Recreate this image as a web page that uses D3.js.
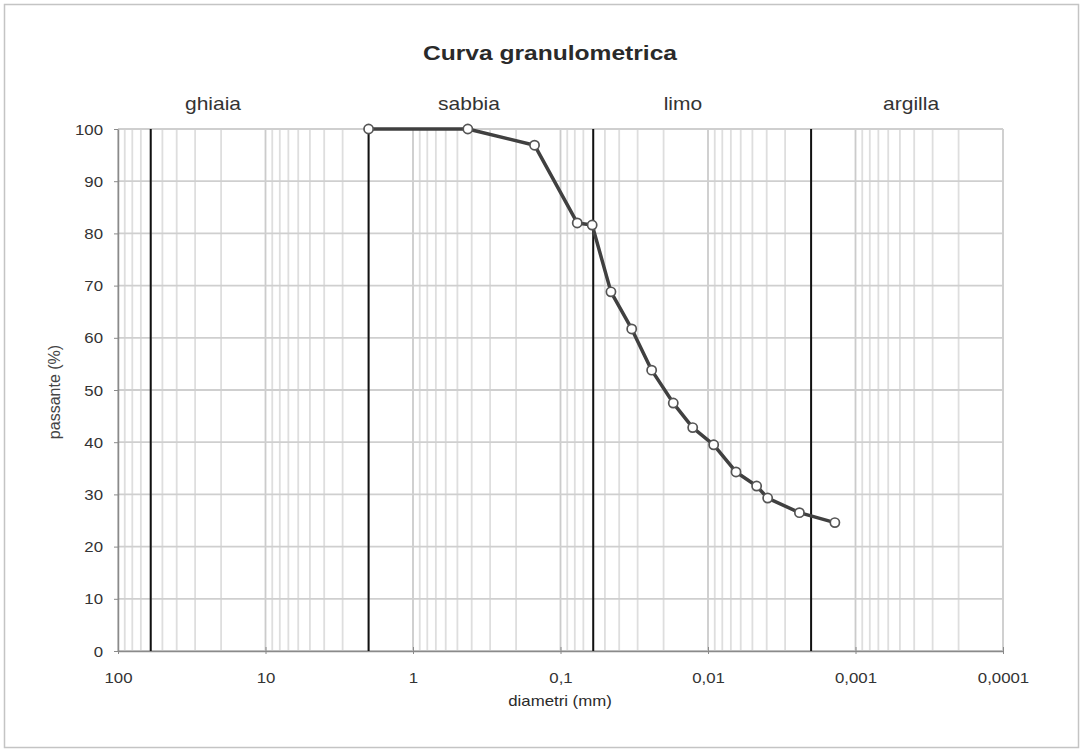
<!DOCTYPE html>
<html>
<head>
<meta charset="utf-8">
<script src="https://cdn.jsdelivr.net/npm/d3@7"></script>
<style>
  html, body { margin: 0; padding: 0; background: #fff; }
  svg { display: block; font-family: "Liberation Sans", Arial, sans-serif; }
</style>
</head>
<body>
<svg id="chart" width="1083" height="753"></svg>
<script>
// Grain-size distribution: diameter (mm) vs percent passing
const diameters = [2, 0.425, 0.15, 0.077, 0.061, 0.0455, 0.0329, 0.0241, 0.0172, 0.0127,
                   0.00915, 0.00646, 0.00468, 0.00394, 0.0024, 0.00138];
const passing   = [100, 100, 96.9, 82.0, 81.6, 68.8, 61.7, 53.8, 47.5, 42.8,
                   39.5, 34.3, 31.6, 29.3, 26.5, 24.6];

// Soil class boundaries (mm) and class names
const boundaries = [60, 2, 0.06, 0.002];
const classNames = ["ghiaia", "sabbia", "limo", "argilla"];
const classLabelAt = [22.7, 0.417, 0.0148, 0.00042];

const xTicks = [100, 10, 1, 0.1, 0.01, 0.001, 0.0001];
const xTickLabels = ["100", "10", "1", "0,1", "0,01", "0,001", "0,0001"];
const yTicks = [0, 10, 20, 30, 40, 50, 60, 70, 80, 90, 100];

const title = "Curva granulometrica";
const xTitle = "diametri (mm)";
const yTitle = "passante (%)";

const svg = d3.select("#chart");
const W = 1083, H = 753;
const plot = { left: 118, right: 1003, top: 129, bottom: 651 };
const stretch = 1.2; // glyphs are drawn slightly wide

const x = d3.scaleLog().domain([100, 0.0001]).range([plot.left, plot.right]);
const y = d3.scaleLinear().domain([0, 100]).range([plot.bottom, plot.top]);

// outer frame
svg.append("rect")
  .attr("x", 4.5).attr("y", 4.5).attr("width", W - 9).attr("height", H - 10)
  .attr("fill", "none").attr("stroke", "#c4c4c4").attr("stroke-width", 1.5);

function label(g, px, py, str, size, opts = {}) {
  const t = g.append("text")
    .attr("transform", `translate(${px},${py}) scale(${opts.noStretch ? 1 : stretch},1)`)
    .attr("text-anchor", opts.anchor || "middle")
    .attr("font-size", size)
    .attr("font-weight", opts.bold ? "bold" : "normal")
    .attr("fill", opts.color || "#2a2a2a")
    .text(str);
  return t;
}

// grid: log minor lines per decade
const grid = svg.append("g");
const minor = [];
for (let e = -4; e < 2; e++) {
  for (let m = 1; m <= 9; m++) minor.push(m * Math.pow(10, e));
}
minor.push(100);
const isDecade = d => Math.abs(Math.log10(d) - Math.round(Math.log10(d))) < 1e-9;
grid.selectAll("line.v").data(minor).join("line")
  .attr("x1", d => x(d)).attr("x2", d => x(d))
  .attr("y1", plot.top).attr("y2", plot.bottom)
  .attr("stroke", d => isDecade(d) ? "#cbcbcb" : "#dedede")
  .attr("stroke-width", 1.8);
grid.selectAll("line.h").data(yTicks).join("line")
  .attr("x1", plot.left).attr("x2", plot.right)
  .attr("y1", d => y(d)).attr("y2", d => y(d))
  .attr("stroke", "#cfcfcf").attr("stroke-width", 1.8);

// axes
const xAxis = d3.axisBottom(x).tickValues(xTicks).tickFormat((d, i) => xTickLabels[i]).tickSize(0);
const gx = svg.append("g").attr("transform", `translate(0,${plot.bottom})`).call(xAxis);
gx.select(".domain").attr("stroke", "#8a8a8a").attr("stroke-width", 1.5);
gx.selectAll("text").remove();
gx.selectAll(".tick").each(function (d, i) {
  const tk = d3.select(this);
  tk.append("line").attr("y1", -4).attr("y2", 3).attr("stroke", "#8a8a8a");
  label(tk, 0, 32, xTickLabels[i], 14, { color: "#333" });
});

const yAxis = d3.axisLeft(y).tickValues(yTicks).tickSize(0);
const gy = svg.append("g").attr("transform", `translate(${plot.left},0)`).call(yAxis);
gy.select(".domain").attr("stroke", "#8a8a8a").attr("stroke-width", 1.5);
gy.selectAll("text").remove();
gy.selectAll(".tick").each(function (d) {
  const tk = d3.select(this);
  tk.append("line").attr("x1", -4).attr("x2", 0).attr("stroke", "#8a8a8a");
  label(tk, -15, 5, String(d), 14, { anchor: "end", color: "#333" });
});

// class boundary lines
svg.append("g").selectAll("line").data(boundaries).join("line")
  .attr("x1", d => x(d)).attr("x2", d => x(d))
  .attr("y1", plot.top).attr("y2", plot.bottom)
  .attr("stroke", "#111").attr("stroke-width", 2);

// class names
const gc = svg.append("g");
classNames.forEach((n, i) => label(gc, x(classLabelAt[i]), 110, n, 17.5, { color: "#333" }));

// grading curve
const pts = diameters.map((d, i) => [d, passing[i]]);
svg.append("path")
  .datum(pts)
  .attr("fill", "none")
  .attr("stroke", "#404040")
  .attr("stroke-width", 3.5)
  .attr("stroke-linejoin", "round")
  .attr("d", d3.line().x(d => x(d[0])).y(d => y(d[1])));

svg.append("g").selectAll("circle").data(pts).join("circle")
  .attr("cx", d => x(d[0])).attr("cy", d => y(d[1]))
  .attr("r", 4.6)
  .attr("fill", "#fff")
  .attr("stroke", "#555")
  .attr("stroke-width", 1.7);

// titles
const gt = svg.append("g");
label(gt, 550, 60, title, 20.5, { bold: true, color: "#2a2a2a" });
label(gt, 560, 706, xTitle, 14, { color: "#2a2a2a" });
svg.append("text")
  .attr("transform", `translate(60,392) rotate(-90)`)
  .attr("text-anchor", "middle")
  .attr("font-size", 16)
  .attr("fill", "#444")
  .text(yTitle);
</script>
</body>
</html>
